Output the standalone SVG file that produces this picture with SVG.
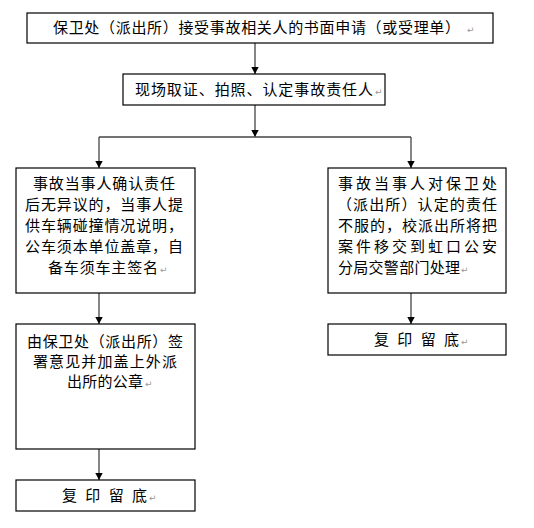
<svg xmlns="http://www.w3.org/2000/svg" width="534" height="528" viewBox="0 0 534 528">
<style>
.box{fill:#fff;stroke:#000;stroke-width:1.2}
.t{font-family:"Noto Sans CJK SC","Noto Sans",sans-serif;font-size:15px;fill:#000}
.pm{font-family:"DejaVu Sans",sans-serif;font-size:9px;fill:#999}
.ln{stroke:#444;stroke-width:1.3;fill:none}
</style>
<defs>
<marker id="ah" markerUnits="userSpaceOnUse" markerWidth="8" markerHeight="8" refX="7" refY="4" orient="auto" viewBox="0 0 8 8">
<path d="M0,0.3 L7,4 L0,7.7 Z" fill="#000"/>
</marker>
</defs>
<rect width="534" height="528" fill="#fff"/>
<g id="connectors">
<line class="ln" x1="255" y1="43" x2="255" y2="74" marker-end="url(#ah)"/>
<line class="ln" x1="255" y1="105" x2="255" y2="137" marker-end="url(#ah)"/>
<line class="ln" x1="99" y1="137" x2="411" y2="137"/>
<line class="ln" x1="99" y1="137" x2="99" y2="168" marker-end="url(#ah)"/>
<line class="ln" x1="411" y1="137" x2="411" y2="168" marker-end="url(#ah)"/>
<line class="ln" x1="99" y1="293" x2="99" y2="324" marker-end="url(#ah)"/>
<line class="ln" x1="99" y1="449" x2="99" y2="480" marker-end="url(#ah)"/>
<line class="ln" x1="411" y1="293" x2="411" y2="324" marker-end="url(#ah)"/>
</g>
<g id="n1">
<rect class="box" x="27" y="13" width="466" height="30"/>
<text class="t" x="53" y="33" textLength="407" lengthAdjust="spacing">保卫处（派出所）接受事故相关人的书面申请（或受理单）</text>
<text class="pm" x="467" y="33">↵</text>
</g>
<g id="n2">
<rect class="box" x="123" y="74" width="262" height="31"/>
<text class="t" x="135" y="95" textLength="238" lengthAdjust="spacing">现场取证、拍照、认定事故责任人</text>
<text class="pm" x="375" y="95">↵</text>
</g>
<g id="n3">
<rect class="box" x="16" y="168" width="179" height="125"/>
<text class="t" x="33" y="189" textLength="142" lengthAdjust="spacing">事故当事人确认责任</text>
<text class="t" x="25" y="210" textLength="158" lengthAdjust="spacing">后无异议的，当事人提</text>
<text class="t" x="25" y="231" textLength="158" lengthAdjust="spacing">供车辆碰撞情况说明，</text>
<text class="t" x="25" y="252" textLength="158" lengthAdjust="spacing">公车须本单位盖章，自</text>
<text class="t" x="48" y="273" textLength="110" lengthAdjust="spacing">备车须车主签名</text>
<text class="pm" x="160" y="273">↵</text>
</g>
<g id="n4">
<rect class="box" x="328" y="168" width="178" height="125"/>
<text class="t" x="338" y="189" textLength="159" lengthAdjust="spacing">事故当事人对保卫处</text>
<text class="t" x="337" y="210" textLength="160" lengthAdjust="spacing">（派出所）认定的责任</text>
<text class="t" x="338" y="231" textLength="159" lengthAdjust="spacing">不服的，校派出所将把</text>
<text class="t" x="338" y="252" textLength="159" lengthAdjust="spacing">案件移交到虹口公安</text>
<text class="t" x="338" y="273" textLength="122" lengthAdjust="spacing">分局交警部门处理</text>
<text class="pm" x="461" y="273">↵</text>
</g>
<g id="n5">
<rect class="box" x="16" y="324" width="179" height="125"/>
<text class="t" x="27" y="347" textLength="156" lengthAdjust="spacing">由保卫处（派出所）签</text>
<text class="t" x="33" y="367" textLength="144" lengthAdjust="spacing">署意见并加盖上外派</text>
<text class="t" x="67" y="387" textLength="76" lengthAdjust="spacing">出所的公章</text>
<text class="pm" x="145" y="387">↵</text>
</g>
<g id="n6">
<rect class="box" x="328" y="324" width="178" height="31"/>
<text class="t" x="374" y="345" textLength="85" lengthAdjust="spacing">复印留底</text>
<text class="pm" x="461" y="345">↵</text>
</g>
<g id="n7">
<rect class="box" x="16" y="480" width="179" height="31"/>
<text class="t" x="62" y="501" textLength="85" lengthAdjust="spacing">复印留底</text>
<text class="pm" x="149" y="501">↵</text>
</g>
</svg>
